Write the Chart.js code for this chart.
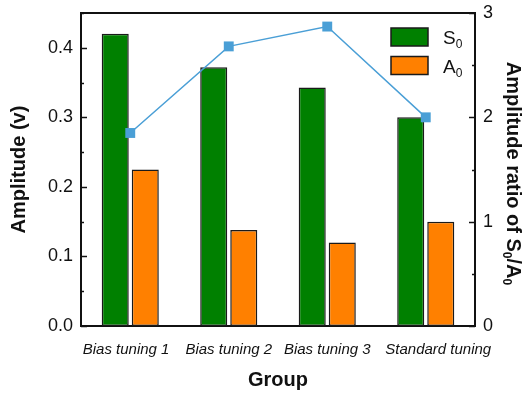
<!DOCTYPE html>
<html>
<head>
<meta charset="utf-8">
<script src="https://cdn.jsdelivr.net/npm/chart.js@4"></script>
<style>
  html, body { margin: 0; padding: 0; background: #fff; }
  #wrap { width: 527px; height: 394px; }
</style>
</head>
<body>
<div id="wrap"><canvas id="c" width="527" height="394"></canvas></div>
<script>
// Groups and measured amplitudes
const categories = ['Bias tuning 1', 'Bias tuning 2', 'Bias tuning 3', 'Standard tuning'];
const s0Amplitude = [0.42, 0.372, 0.343, 0.30];
const a0Amplitude = [0.225, 0.138, 0.12, 0.15];
const ratioS0A0 = [1.85, 2.68, 2.87, 2.0];

// Axis ticks
const leftTicks = [0, 0.1, 0.2, 0.3, 0.4];
const leftMinorTicks = [0.05, 0.15, 0.25, 0.35, 0.45];
const rightTicks = [0, 1, 2, 3];
const rightMinorTicks = [0.5, 1.5, 2.5];

const FONT = 'Arial, "Liberation Sans", sans-serif';
const GREEN = '#008000';
const ORANGE = '#ff8000';
const BLUE = '#4a9fd6';
const EDGE = '#1a1a1a';

// Draws text with subscripts: parts = [[text, isSub], ...]
function subText(ctx, parts, x, y, size, bold, align) {
  const main = (bold ? 'bold ' : '') + size + 'px ' + FONT;
  const sub = (bold ? 'bold ' : '') + Math.round(size * 0.62) + 'px ' + FONT;
  let total = 0;
  parts.forEach(([t, s]) => { ctx.font = s ? sub : main; total += ctx.measureText(t).width; });
  let cx = align === 'center' ? x - total / 2 : x;
  ctx.textBaseline = 'alphabetic';
  ctx.textAlign = 'left';
  parts.forEach(([t, s]) => {
    ctx.font = s ? sub : main;
    ctx.fillText(t, cx, s ? y + size * 0.22 : y);
    cx += ctx.measureText(t).width;
  });
}

const framePlugin = {
  id: 'frame',
  afterDatasetsDraw(chart) {
    const { ctx, chartArea: a, scales } = chart;
    ctx.save();
    ctx.strokeStyle = '#111';
    // top border of the plot frame
    ctx.lineWidth = 2;
    ctx.beginPath();
    ctx.moveTo(a.left - 1, a.top);
    ctx.lineTo(a.right + 1, a.top);
    ctx.stroke();

    // inward tick marks on both value axes
    const tick = (scale, values, len, side) => {
      values.forEach(v => {
        const py = Math.round(scale.getPixelForValue(v)) + 0.5;
        ctx.beginPath();
        if (side === 'left') { ctx.moveTo(a.left, py); ctx.lineTo(a.left + len, py); }
        else { ctx.moveTo(a.right, py); ctx.lineTo(a.right - len, py); }
        ctx.stroke();
      });
    };
    ctx.lineWidth = 1.5;
    tick(scales.y, leftTicks, 6, 'left');
    tick(scales.y, leftMinorTicks, 3, 'left');
    tick(scales.y1, rightTicks, 6, 'right');
    tick(scales.y1, rightMinorTicks, 3, 'right');

    // legend for the two bar series
    const items = [[chart.data.datasets[1], 'S'], [chart.data.datasets[2], 'A']];
    items.forEach(([ds, letter], i) => {
      const bx = 391, by = 28 + i * 28.5, bw = 37, bh = 18;
      ctx.fillStyle = ds.backgroundColor;
      ctx.fillRect(bx, by, bw, bh);
      ctx.lineWidth = 1.5;
      ctx.strokeStyle = EDGE;
      ctx.strokeRect(bx, by, bw, bh);
      ctx.fillStyle = '#111';
      subText(ctx, [[letter, false], ['0', true]], 443, by + 16, 19, false, 'left');
    });

    // right axis title, reading top to bottom
    ctx.translate(507, (a.top + a.bottom) / 2 + 4);
    ctx.rotate(Math.PI / 2);
    ctx.fillStyle = '#111';
    subText(ctx, [['Amplitude ratio of S', false], ['0', true], ['/A', false], ['0', true]], 0, 0, 20, true, 'center');
    ctx.restore();
  }
};

const setTicks = values => scale => { scale.ticks = values.map(v => ({ value: v })); };
// value axes: no extra room reserved for half-height end labels
const fixWidth = w => s => { s.width = w; s.paddingTop = 0; s.paddingBottom = 0; };
// outer labels are nudged apart with spaces so they do not crowd their neighbours
const xLabel = (v, i) => {
  const t = categories[i];
  if (i === 0) return t + '  ';
  if (i === categories.length - 1) return '      ' + t;
  return t;
};

new Chart(document.getElementById('c'), {
  data: {
    labels: categories,
    datasets: [
      {
        type: 'line',
        label: 'S0/A0',
        data: ratioS0A0,
        yAxisID: 'y1',
        borderColor: BLUE,
        backgroundColor: BLUE,
        borderWidth: 1.5,
        pointStyle: 'rect',
        pointRadius: 7,
        pointBorderWidth: 0,
        order: 0
      },
      {
        type: 'bar',
        label: 'S0',
        data: s0Amplitude,
        yAxisID: 'y',
        backgroundColor: GREEN,
        borderColor: EDGE,
        borderWidth: 1.5,
        borderSkipped: false,
        categoryPercentage: 0.61,
        barPercentage: 0.9,
        order: 1
      },
      {
        type: 'bar',
        label: 'A0',
        data: a0Amplitude,
        yAxisID: 'y',
        backgroundColor: ORANGE,
        borderColor: EDGE,
        borderWidth: 1.5,
        borderSkipped: false,
        categoryPercentage: 0.61,
        barPercentage: 0.9,
        order: 2
      }
    ]
  },
  options: {
    responsive: false,
    animation: false,
    layout: { padding: { left: 0, right: 0, top: 13, bottom: 0 } },
    plugins: { legend: { display: false }, tooltip: { enabled: false } },
    scales: {
      x: {
        grid: { display: false, drawTicks: false },
        border: { display: true, color: '#111', width: 2 },
        ticks: { color: '#111', padding: 15, autoSkip: false, maxRotation: 0, font: { family: FONT, size: 15, style: 'italic' }, callback: xLabel },
        title: { display: true, text: 'Group', color: '#111', padding: { top: 0, bottom: 2 }, font: { family: FONT, size: 20, weight: 'bold' } },
        afterFit: s => { s.height = 68; s.paddingLeft = 0; s.paddingRight = 0; }
      },
      y: {
        position: 'left',
        min: 0, max: 0.45,
        grid: { display: false, drawTicks: false },
        border: { display: true, color: '#111', width: 2 },
        afterBuildTicks: setTicks(leftTicks),
        ticks: { color: '#111', padding: 8, font: { family: FONT, size: 18 }, callback: v => v.toFixed(1) },
        title: { display: true, text: 'Amplitude (v)', color: '#111', padding: { top: 7, bottom: 0 }, font: { family: FONT, size: 20, weight: 'bold' } },
        afterFit: fixWidth(81)
      },
      y1: {
        position: 'right',
        min: 0, max: 3,
        grid: { display: false, drawTicks: false },
        border: { display: true, color: '#111', width: 2 },
        afterBuildTicks: setTicks(rightTicks),
        ticks: { color: '#111', padding: 8, font: { family: FONT, size: 18 } },
        afterFit: fixWidth(52)
      }
    }
  },
  plugins: [framePlugin]
});
</script>
</body>
</html>
